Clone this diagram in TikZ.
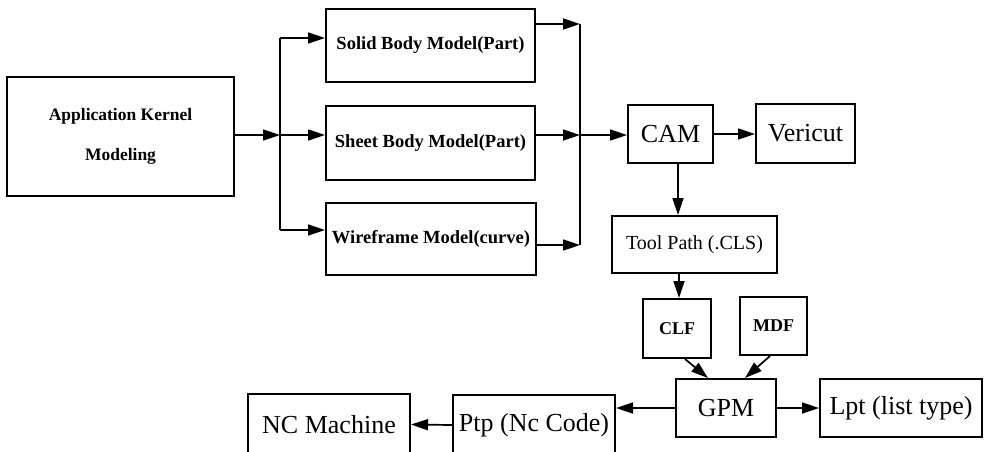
\documentclass[tikz,border=0pt]{standalone}
\usepackage{fontspec}
\setmainfont{Liberation Serif}
\usetikzlibrary{arrows.meta}
\begin{document}
\begin{tikzpicture}[x=1pt,y=-1pt,
  box/.style={draw, line width=2pt, inner sep=0pt, align=center},
  smallbold/.style={font=\bfseries\fontsize{18.5}{20}\selectfont},
  big/.style={font=\fontsize{26}{28}\selectfont},
  arr/.style={-{Triangle[length=17pt,width=11pt]}, line width=1.7pt},
  ln/.style={line width=1.7pt}]
\useasboundingbox (0,0) rectangle (984,451);
\clip (0,0) rectangle (984,451);
% nodes
\node[box, minimum width=227pt, minimum height=119pt,
      font=\bfseries\fontsize{17.5}{40}\selectfont] (app) at (120.5,136.5) {Application Kernel\\Modeling};
\node[box, smallbold, minimum width=209pt, minimum height=73pt] (solid) at (430.5,45.5) {Solid Body Model(Part)};
\node[box, smallbold, minimum width=209pt, minimum height=74pt] (sheet) at (430.5,143) {Sheet Body Model(Part)};
\node[box, smallbold, minimum width=210pt, minimum height=72pt] (wire) at (431,239) {Wireframe Model(curve)};
\node[box, big, minimum width=85pt, minimum height=58pt] (cam) at (670.5,134) {CAM};
\node[box, big, minimum width=99pt, minimum height=59pt] (veri) at (805.5,133.5) {Vericut};
\node[box, font=\fontsize{20}{22}\selectfont, minimum width=165pt, minimum height=57pt] (tool) at (694.5,244.5) {Tool Path (.CLS)};
\node[box, font=\bfseries\fontsize{18}{20}\selectfont, minimum width=68pt, minimum height=59pt] (clf) at (677,328.5) {CLF};
\node[box, font=\bfseries\fontsize{18}{20}\selectfont, minimum width=67pt, minimum height=58pt] (mdf) at (773.5,326) {MDF};
\node[box, big, minimum width=100pt, minimum height=58pt] (gpm) at (726,408) {GPM};
\node[box, big, minimum width=162pt, minimum height=58pt] (lpt) at (901,408) {Lpt (list type)};
\node[box, big, minimum width=162pt, minimum height=60pt] (ptp) at (534,425) {Ptp (Nc Code)};
\node[box, big, minimum width=162pt, minimum height=61pt] (nc) at (329,424.5) {NC Machine};
% junction coordinates
\coordinate (jl) at (280,135);
\coordinate (jlt) at (280,38);
\coordinate (jlb) at (280,230);
\coordinate (jr) at (580,135);
\coordinate (jrt) at (580,24);
\coordinate (jrb) at (580,245);
% connectors left fan-out
\draw[arr] (app.east |- jl) -- (jl);
\draw[ln] (jlt) -- (jlb);
\draw[arr] (jlt) -- (solid.west |- jlt);
\draw[arr] (jl) -- (sheet.west |- jl);
\draw[arr] (jlb) -- (wire.west |- jlb);
% right fan-in
\draw[arr] (solid.east |- jrt) -- (jrt);
\draw[arr] (sheet.east |- jr) -- (jr);
\draw[arr] (wire.east |- jrb) -- (jrb);
\draw[ln] (jrt) -- (jrb);
\draw[arr] (jr) -- (cam.west |- jr);
% CAM chain
\draw[arr] (cam.east) -- (veri.west |- cam.east);
\draw[arr] ([xshift=7.5pt]cam.south) -- ([xshift=7.5pt]cam.south |- tool.north);
\draw[arr] ([xshift=2pt]clf.north |- tool.south) -- ([xshift=2pt]clf.north);
\draw[arr] ([xshift=8pt]clf.south) -- ([xshift=-18pt]gpm.north);
\draw[arr] ([xshift=-3.5pt]mdf.south) -- ([xshift=19pt]gpm.north);
\draw[arr] (gpm.east) -- (lpt.west);
\draw[arr] (gpm.west) -- (ptp.east |- gpm.west);
\draw[arr] (ptp.west) -- (nc.east);
\end{tikzpicture}
\end{document}
